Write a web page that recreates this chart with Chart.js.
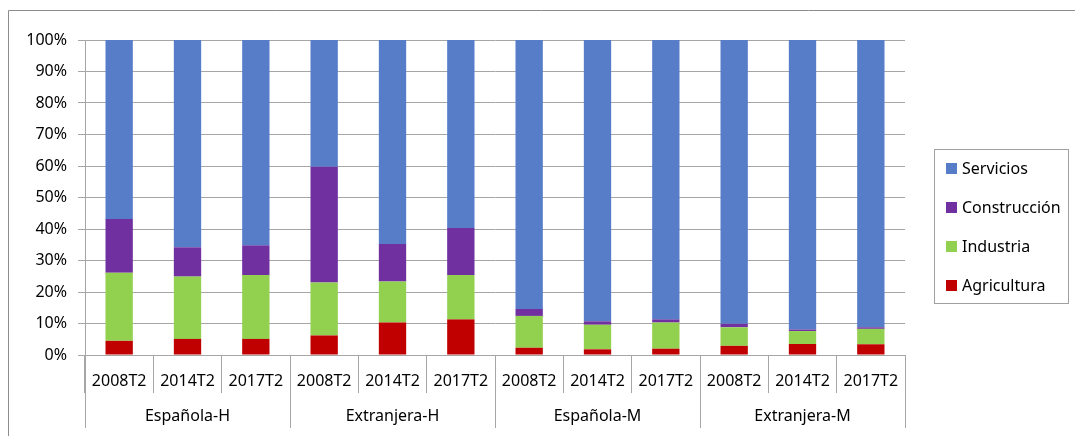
<!DOCTYPE html>
<html>
<head>
<meta charset="utf-8">
<script src="https://cdn.jsdelivr.net/npm/chart.js@4.4.1/dist/chart.umd.min.js"></script>
<style>
  html, body { margin: 0; padding: 0; background: #fff; }
  #wrap { width: 1075px; height: 436px; position: relative; }
</style>
</head>
<body>
<div id="wrap"><canvas id="chart"></canvas></div>
<script>
// periods (inner axis level) and groups (outer level)
const periods = ["2008T2", "2014T2", "2017T2"];
const groups = ["Española-H", "Extranjera-H", "Española-M", "Extranjera-M"];
const labels = groups.flatMap(g => periods.map(p => p));

// shares in %
const agricultura  = [4.5, 5.1, 5.1, 6.2, 10.3, 11.3, 2.3, 1.8, 2.0, 2.9, 3.5, 3.4];
const industria    = [21.6, 19.8, 20.3, 16.8, 13.0, 14.1, 10.1, 7.8, 8.3, 5.9, 4.1, 4.9];
const construccion = [17.1, 9.3, 9.4, 36.8, 11.9, 14.9, 2.2, 1.1, 1.0, 1.1, 0.5, 0.5];
const servicios    = [56.8, 65.8, 65.2, 40.2, 64.8, 59.7, 85.4, 89.3, 88.7, 90.1, 91.9, 91.2];

const yTicks = [0, 10, 20, 30, 40, 50, 60, 70, 80, 90, 100];

const FONT = "'Noto Sans', sans-serif";
Chart.defaults.font.family = FONT;
Chart.defaults.font.size = 16;
Chart.defaults.color = "#000";

const gridColor = "#a6a6a6";

// draws frame, two-level x labels and legend box
const extras = {
  id: "extras",
  beforeDraw(chart) {
    const ctx = chart.ctx;
    ctx.save();
    ctx.strokeStyle = "#8c8c8c";
    ctx.lineWidth = 1;
    ctx.beginPath();
    ctx.moveTo(8.5, 436);
    ctx.lineTo(8.5, 10.5);
    ctx.lineTo(1075, 10.5);
    ctx.stroke();
    ctx.restore();
  },
  afterDraw(chart) {
    const ctx = chart.ctx;
    const x = chart.scales.x;
    const area = chart.chartArea;
    const step = x.getPixelForValue(1) - x.getPixelForValue(0);
    ctx.save();
    ctx.font = "16px " + FONT;
    ctx.fillStyle = "#000";
    ctx.textAlign = "center";
    ctx.textBaseline = "middle";
    labels.forEach((l, i) => {
      ctx.fillText(l, x.getPixelForValue(i), area.bottom + 26);
    });
    // group separators
    ctx.strokeStyle = gridColor;
    ctx.lineWidth = 1;
    for (let g = 0; g <= groups.length; g++) {
      const px = Math.round(x.getPixelForValue(g * periods.length) - step / 2) + 0.5;
      ctx.beginPath();
      ctx.moveTo(px, area.bottom);
      ctx.lineTo(px, 428);
      ctx.stroke();
    }
    groups.forEach((g, gi) => {
      const c = (x.getPixelForValue(gi * 3) + x.getPixelForValue(gi * 3 + 2)) / 2;
      ctx.fillText(g, c, 416);
    });

    // legend
    ctx.strokeStyle = "#a0a0a0";
    ctx.strokeRect(934.5, 149.5, 134, 154);
    ctx.textAlign = "left";
    const ds = chart.data.datasets.slice().reverse();
    ds.forEach((d, i) => {
      const cy = 168 + i * 39;
      ctx.fillStyle = d.backgroundColor;
      ctx.fillRect(946, cy - 5, 11, 11);
      ctx.fillStyle = "#000";
      ctx.fillText(d.label, 962, cy + 1);
    });
    ctx.restore();
  }
};

new Chart(document.getElementById("chart"), {
  type: "bar",
  data: {
    labels: labels,
    datasets: [
      { label: "Agricultura", data: agricultura, backgroundColor: "#c00000" },
      { label: "Industria", data: industria, backgroundColor: "#92d050" },
      { label: "Construcción", data: construccion, backgroundColor: "#7030a0" },
      { label: "Servicios", data: servicios, backgroundColor: "#577dc9" }
    ]
  },
  options: {
    responsive: true,
    maintainAspectRatio: false,
    animation: false,
    layout: { padding: { left: 0, top: 40, right: 170, bottom: 43 } },
    datasets: { bar: { barPercentage: 0.4, categoryPercentage: 1.0, borderWidth: 0 } },
    plugins: { legend: { display: false }, tooltip: { enabled: false } },
    scales: {
      x: {
        stacked: true,
        grid: { offset: true, drawOnChartArea: false, drawTicks: true, tickLength: 38, color: gridColor },
        border: { color: gridColor },
        ticks: { display: false },
        afterFit(scale) { scale.height = 38; }
      },
      y: {
        stacked: true,
        min: 0,
        max: 100,
        afterBuildTicks(scale) { scale.ticks = yTicks.map(v => ({ value: v })); },
        grid: { color: gridColor, tickLength: 7 },
        border: { color: gridColor },
        ticks: { padding: 11, callback: v => v + "%" },
        afterFit(scale) { scale.width = 85; }
      }
    }
  },
  plugins: [extras]
});
</script>
</body>
</html>
